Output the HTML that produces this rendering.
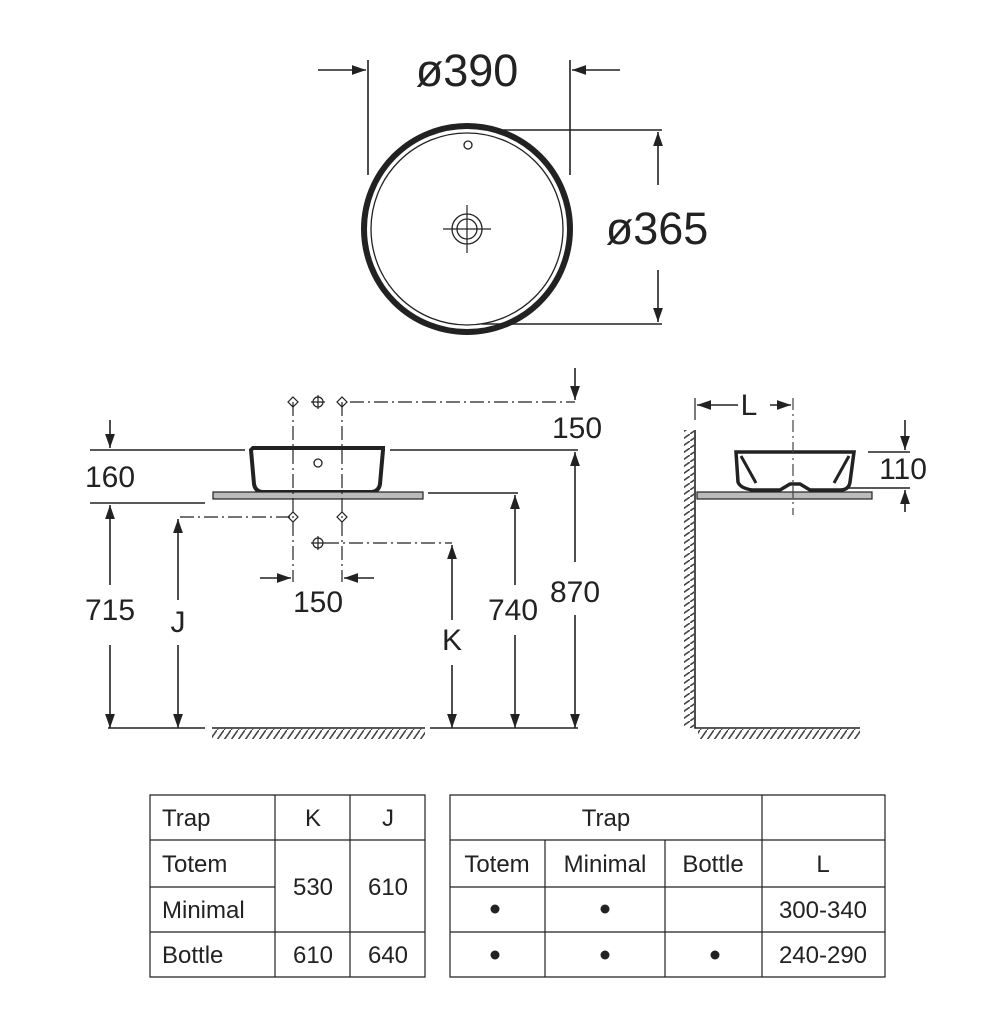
<!DOCTYPE html>
<html><head><meta charset="utf-8"><style>
html,body{margin:0;padding:0;background:#fff}
svg text{font-family:"Liberation Sans",sans-serif;fill:#222}
</style></head><body>
<svg width="1005" height="1005" viewBox="0 0 1005 1005" xmlns="http://www.w3.org/2000/svg">
<defs>
<marker id="a" viewBox="0 0 10 10" refX="10" refY="5" markerWidth="16" markerHeight="14" orient="auto-start-reverse" markerUnits="userSpaceOnUse"><path d="M0,1.5 L10,5 L0,8.5 z" fill="#222"/></marker>
<pattern id="h" width="7" height="10" patternUnits="userSpaceOnUse"><path d="M7,0 L0,10" stroke="#444" stroke-width="1.6"/></pattern>
<pattern id="hv" width="10" height="7" patternUnits="userSpaceOnUse"><path d="M10,0 L0,7" stroke="#444" stroke-width="1.6"/></pattern>
</defs>
<g stroke="#222" stroke-width="1.6" fill="none">
<circle cx="467" cy="229" r="103" stroke-width="6"/>
<circle cx="467" cy="229" r="96" stroke-width="1.3"/>
<circle cx="468" cy="145" r="4" stroke-width="1.3"/>
<circle cx="467" cy="229" r="15" stroke-width="1.3"/>
<circle cx="467" cy="229" r="10" stroke-width="1.3"/>
<path d="M443,229h48M467,205v48" stroke-width="1.2"/>
<path d="M368,60v115M570,60v115"/>
<path d="M318,70h48" marker-end="url(#a)"/>
<path d="M620,70h-48" marker-end="url(#a)"/>
<path d="M488,130h174M482,324h180"/>
<path d="M658,185v-53" marker-end="url(#a)"/>
<path d="M658,270v52" marker-end="url(#a)"/>
<path d="M253,448 h130 v2 l-3,34 q-1,7 -8,8 h-110 q-7,-1 -8,-8 l-3,-34z" stroke-width="4"/>
<circle cx="318" cy="463" r="4" stroke-width="1.3"/>
<rect x="213" y="492" width="210" height="7" fill="#bbb" stroke-width="1.2"/>
<g stroke-dasharray="14,4,2,4" stroke-width="1.2">
<path d="M293,402v180M342,402v180"/>
<path d="M350,402h225M180,517h110M325,543h127"/>
</g>
<g stroke-width="1.2"><path d="M288,402l5,-5 5,5 -5,5z M337,402l5,-5 5,5 -5,5z M288,517l5,-5 5,5 -5,5z M337,517l5,-5 5,5 -5,5z"/>
<circle cx="318" cy="402" r="5"/><path d="M311,402h14M318,395v14"/>
<circle cx="318" cy="543" r="5"/><path d="M311,543h14M318,536v14"/></g>
<path d="M575,368v32" marker-end="url(#a)"/>
<path d="M90,450h155M390,450h188"/>
<path d="M110,420v28" marker-end="url(#a)"/>
<path d="M90,503h115M428,493h90"/>
<path d="M260,578h31" marker-end="url(#a)"/>
<path d="M374,578h-30" marker-end="url(#a)"/>
<path d="M110,585v-80" marker-end="url(#a)"/><path d="M110,645v83" marker-end="url(#a)"/>
<path d="M178,600v-81" marker-end="url(#a)"/><path d="M178,645v83" marker-end="url(#a)"/>
<path d="M452,620v-75" marker-end="url(#a)"/><path d="M452,665v63" marker-end="url(#a)"/>
<path d="M515,585v-90" marker-end="url(#a)"/><path d="M515,635v93" marker-end="url(#a)"/>
<path d="M575,562v-110" marker-end="url(#a)"/><path d="M575,615v113" marker-end="url(#a)"/>
<path d="M108,728h97M430,728h148"/>
<path d="M212,728h213"/>
<path d="M695,398v22" stroke-width="1.2"/>
<path d="M738,405h-41" marker-end="url(#a)"/>
<path d="M770,405h21" marker-end="url(#a)"/>
<path d="M695,430v298h165"/>
<rect x="697" y="492" width="175" height="7" fill="#bbb" stroke-width="1.2"/>
<path d="M736,452 h118 l-4,30 q-1,8 -10,8 h-30 l-10,-6 h-10 l-10,6 h-28 q-12,-2 -14,-8z" fill="#fff" stroke-width="3.5"/>
<path d="M741,456 l15,27 M849,456 l-15,27" stroke-width="3"/>
<path d="M868,452h42M848,488h62"/>
<path d="M905,420v30" marker-end="url(#a)"/>
<path d="M905,512v-22" marker-end="url(#a)"/>
<g stroke-width="1.2">
<path d="M150,795h275v182h-275z M275,795v182M350,795v182M150,840h275M150,887h125M150,932h275"/>
<path d="M450,795h435v182h-435z M762,795v182M545,840v137M665,840v137M450,840h435M450,887h435M450,932h435"/>
</g>
</g>
<rect x="212" y="729" width="213" height="10" fill="url(#h)"/>
<rect x="698" y="729" width="162" height="10" fill="url(#h)"/>
<rect x="684" y="430" width="10" height="298" fill="url(#hv)"/>
<path d="M793,398v117" stroke="#444" stroke-width="1.2" stroke-dasharray="12,4,2,4"/>
<g font-size="45" text-anchor="middle">
<text x="467" y="86">ø390</text>
<text x="657" y="244">ø365</text>
</g>
<g font-size="30" text-anchor="middle">
<text x="577" y="438">150</text>
<text x="110" y="487">160</text>
<text x="318" y="612">150</text>
<text x="110" y="620">715</text>
<text x="178" y="632">J</text>
<text x="452" y="650">K</text>
<text x="513" y="620">740</text>
<text x="575" y="602">870</text>
<text x="749" y="415">L</text>
<text x="903" y="479">110</text>
</g>
<g font-size="24">
<text x="162" y="826">Trap</text>
<text x="162" y="872">Totem</text>
<text x="162" y="918">Minimal</text>
<text x="162" y="963">Bottle</text>
</g>
<g font-size="24" text-anchor="middle">
<text x="313" y="826">K</text><text x="388" y="826">J</text>
<text x="313" y="895">530</text><text x="388" y="895">610</text>
<text x="313" y="963">610</text><text x="388" y="963">640</text>
<text x="606" y="826">Trap</text>
<text x="497" y="872">Totem</text><text x="605" y="872">Minimal</text><text x="713" y="872">Bottle</text><text x="823" y="872">L</text>
<text x="823" y="918">300-340</text><text x="823" y="963">240-290</text>
</g>
<g fill="#222">
<circle cx="495" cy="909" r="4.5"/><circle cx="605" cy="909" r="4.5"/>
<circle cx="495" cy="955" r="4.5"/><circle cx="605" cy="955" r="4.5"/><circle cx="715" cy="955" r="4.5"/>
</g>
</svg>
</body></html>
